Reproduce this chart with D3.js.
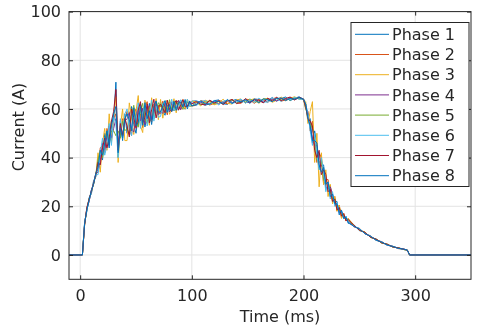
<!DOCTYPE html>
<html>
<head>
<meta charset="utf-8">
<script src="https://cdn.jsdelivr.net/npm/d3@7"></script>
<style>
  body { margin: 0; background: #fff; }
  svg { filter: blur(0.3px); }
  text { font-family: "DejaVu Sans", sans-serif; fill: #262626; }
</style>
</head>
<body>
<svg id="chart" width="480" height="331"></svg>
<script>
// time axis (ms), shared by every phase
const time = [-10, 2, 4, 6, 8, 10, 12, 14, 16, 18, 20, 22, 24, 26, 28, 30, 32, 34, 36, 38, 40,
  42, 44, 46, 48, 50, 52, 54, 56, 58, 60, 62, 64, 66, 68, 70,
  72, 74, 76, 78, 80, 82, 84, 86, 88, 90, 92, 94, 96, 98, 100,
  104, 108, 112, 116, 120, 124, 128, 132, 136, 140, 144, 148, 152, 156, 160, 164, 168, 172, 176, 180, 184, 188, 192, 196, 200,
  202, 204, 206, 208, 210, 212, 214, 216, 218, 220, 222, 224, 226, 228,
  230, 232, 234, 236, 238, 240, 245, 250, 255, 260, 265, 270, 275, 280, 285, 290, 293, 295, 350];

// phase currents (A)
const phase1 = [0, 0, 13.5, 18, 23.5, 25, 30.5, 32, 40, 41, 39, 50, 49, 44, 55, 55, 71, 40, 55, 47, 58,
  50, 57.5, 61, 53.5, 50, 57.5, 62, 59.3, 52.6, 57, 62.3, 55.6, 60, 63.3, 57.6,
  62.9, 59.2, 57.4, 62.6, 61.8, 59, 63.2, 60.4, 62.5, 63.7, 60.8, 59.9, 63, 62.1, 63.2,
  63.3, 62.7, 61.5, 62.2, 63.4, 63.7, 62.1, 61.9, 63.4, 63.9, 62.6, 63.4, 62.3, 64.1, 63.9, 62.7, 63.3, 64.7, 63.2, 64.3, 64.9, 63.4, 64.3, 65, 64,
  62, 55, 56, 46, 51, 45, 35, 37, 37, 27, 28, 28, 22, 22,
  22, 16.5, 18.5, 15, 16, 13, 12.5, 10, 9.4, 7.2, 6.6, 4.9, 4.4, 3.2, 3, 2.2, 2, 0, 0];
const phase2 = [0, 0, 12.5, 19.5, 22, 26.5, 29, 33.5, 35, 44, 45, 42, 52, 48, 47, 56, 58, 44, 49, 56, 55,
  59, 53.5, 49, 57.5, 60, 53.5, 58, 52.3, 60.6, 63, 56.3, 54.6, 62, 59.3, 61.6,
  57.9, 63.2, 61.4, 57.6, 62.8, 62, 59.2, 63.4, 60.5, 59.7, 63.8, 62.9, 61, 63.1, 61.2,
  61.5, 63.4, 63, 61.6, 62.3, 63.5, 63, 62, 64, 62.5, 62.3, 64.1, 63.7, 62.3, 64, 63.6, 62.7, 64.2, 64.6, 63.2, 63.7, 64.7, 63.8, 64.7, 64,
  60, 59, 51, 55, 44, 38, 42, 40, 29, 31, 31, 24, 23, 24,
  18, 20.5, 15.5, 17, 14, 15, 11.6, 11, 8.7, 7.9, 6, 5.5, 4, 3.6, 2.6, 2.4, 2, 0, 0];
const phase3 = [0, 0, 13, 18.5, 23, 25.5, 30, 32.5, 42, 34, 46, 52, 43, 58, 46, 57, 65, 38, 53, 60, 47,
  47, 62.5, 57, 49.5, 59, 65.5, 53, 50.3, 63.6, 59, 53.3, 64.6, 56, 64.3, 55.6,
  63.9, 56.2, 62.4, 63.6, 57.8, 60, 64.2, 58.4, 63.5, 60.7, 63.8, 59.9, 64, 61.1, 63.2,
  62.9, 61.2, 63.6, 62.8, 61.7, 62.3, 64, 62.3, 62, 63.7, 64.1, 62.4, 63.6, 64.2, 62.3, 63.9, 64.4, 62.7, 63.6, 64.9, 63.4, 64.4, 65, 64.1, 64,
  63, 54, 59, 63, 38, 50, 28, 42, 29, 35, 24, 29, 21, 24,
  18, 20.5, 15, 17, 14, 15, 12.4, 10.1, 9.5, 7.2, 6.5, 4.9, 4.5, 3.2, 2.9, 2.2, 2, 0, 0];
const phase4 = [0, 0, 13, 19, 22, 26.5, 29.5, 33.5, 34, 39, 46, 43, 49, 53, 48, 52, 56, 46, 53, 49, 55,
  56, 58.5, 52, 50.5, 57, 60.5, 55, 60.3, 53.6, 60, 61.3, 55.6, 58, 62.3, 57.6,
  58.9, 58.2, 62.4, 61.6, 58.8, 63, 60.2, 62.4, 63.5, 59.7, 61.8, 62.9, 61, 63.1, 62.2,
  62, 62.9, 61.9, 63.3, 62.9, 62, 62.6, 63.5, 62.6, 63.3, 63.7, 62.7, 62.9, 63.8, 63.2, 62.9, 64.1, 63.9, 63.3, 64.3, 63.8, 64.6, 63.9, 64.6, 64,
  61, 58, 52, 48, 45, 45, 36, 37, 35, 28, 27, 28, 25, 21,
  21, 17.5, 18, 15.5, 15.5, 13.5, 11.7, 10.8, 8.7, 7.7, 6.1, 5.4, 4, 3.5, 2.7, 2.4, 2, 0, 0];
const phase5 = [0, 0, 12.5, 19, 23, 26, 29, 33, 39, 43, 40, 46, 51, 46, 51, 51, 49, 51, 48, 55, 51,
  52, 49.5, 58, 61.5, 55, 52.5, 59, 62.3, 55.6, 54, 60.3, 62.6, 56, 58.3, 62.6,
  60.9, 62.2, 58.4, 59.6, 63.8, 60, 59.2, 63.4, 61.5, 62.7, 59.8, 62.9, 63, 61.1, 61.2,
  62.7, 61.7, 62.7, 63.4, 62, 63, 62, 63.4, 63.7, 62.4, 63.3, 62.8, 64.1, 63, 62.8, 64.2, 63.9, 63.1, 64.4, 63.7, 64.5, 63.6, 64.6, 64.2, 64,
  60, 57, 54, 52, 48, 39, 38, 39, 31, 29, 30, 26, 23, 23,
  19, 19.5, 16.5, 16.5, 14.5, 14.5, 12.2, 10.3, 9.2, 7.3, 6.5, 5, 4.3, 3.3, 2.9, 2.2, 2, 0, 0];
const phase6 = [0, 0, 13.5, 18.5, 22.5, 25.5, 30, 33, 33, 42, 48, 41, 45, 54, 45, 57, 54, 40, 56, 48, 58,
  60, 51.5, 49, 59.5, 54, 62.5, 52, 58.3, 61.6, 53, 57.3, 63.6, 55, 61.3, 56.6,
  56.9, 62.2, 63.4, 58.6, 59.8, 64, 59.2, 61.4, 59.5, 63.7, 62.8, 60.9, 64, 61.1, 63.2,
  61.3, 63, 63.5, 61.8, 63.5, 61.6, 63.2, 63.7, 62.3, 62.8, 64.1, 62.3, 63.8, 62.7, 64.4, 63.2, 62.7, 64.4, 64.2, 63.1, 64.6, 63.7, 64.8, 64, 64,
  62, 58, 51, 45, 50, 41, 35, 40, 34, 26, 30, 23, 26, 20,
  21.5, 17.5, 18, 15, 16, 13.5, 11.8, 10.9, 8.8, 7.8, 6, 5.4, 4, 3.6, 2.7, 2.3, 2, 0, 0];
const phase7 = [0, 0, 12.5, 19.5, 23, 26, 29.5, 33, 38, 37, 44, 48, 44, 48, 55, 59, 68, 43, 54, 49, 56,
  53, 48.5, 60, 56.5, 52, 59.5, 63, 54.3, 56.6, 62, 54.3, 59.6, 64, 56.3, 60.6,
  61.9, 60.2, 58.4, 63.6, 59.8, 59, 62.2, 63.4, 59.5, 61.7, 63.8, 60.9, 61, 63.1, 62.2,
  63, 62, 61.6, 63.6, 62.4, 63.3, 61.8, 63.2, 63.9, 62.2, 62.7, 64.2, 62.6, 63.7, 63.6, 62.5, 64.4, 63.3, 64.8, 63.4, 64.3, 64.9, 63.7, 64.8, 64,
  61, 56, 55, 53, 43, 40, 43, 33, 35, 33, 26, 27, 22, 23,
  18.5, 19.5, 16, 17, 14, 14.5, 12.3, 10.2, 9.3, 7.3, 6.5, 5, 4.4, 3.3, 2.9, 2.3, 2, 0, 0];
const phase8 = [0, 0, 13, 18.5, 22.5, 26.5, 29, 33.5, 36, 43, 41, 46, 51, 45, 53, 58, 61, 42, 52, 48, 56,
  58, 55.5, 51, 60.5, 53, 54.5, 61, 53.3, 62.6, 56, 59.3, 53.6, 61, 63.3, 58.6,
  58.9, 61.2, 63.4, 58.6, 61.8, 59, 63.2, 59.4, 62.5, 62.7, 60.8, 63.9, 60, 63.1, 61.2,
  61.8, 63.3, 62.2, 61.9, 63.2, 63.1, 62.2, 63.9, 62.2, 63.5, 62.9, 63.8, 62.8, 64, 62.5, 64.1, 63.8, 63, 64.3, 64.5, 63.4, 64.3, 64, 64.7, 64,
  62, 56, 53, 47, 47, 46, 37, 34, 36, 29, 30, 24, 25, 21,
  21, 17.5, 18, 15, 15.5, 13.5, 11.8, 10.7, 8.8, 7.7, 6.1, 5.3, 4.1, 3.5, 2.7, 2.4, 2, 0, 0];

const phaseNames = ['Phase 1', 'Phase 2', 'Phase 3', 'Phase 4', 'Phase 5', 'Phase 6', 'Phase 7', 'Phase 8'];
const xTicks = [0, 100, 200, 300];
const yTicks = [0, 20, 40, 60, 80, 100];

// matlab default line colours, the 8th wraps round to the first
const colors = ['#0072BD', '#D95319', '#EDB120', '#7E2F8E', '#77AC30', '#4DBEEE', '#A2142F', '#0072BD'];

const phases = [phase1, phase2, phase3, phase4, phase5, phase6, phase7, phase8];
phases.forEach((p, i) => {
  if (p.length !== time.length) console.warn(phaseNames[i] + ' has ' + p.length + ' values, time has ' + time.length);
});

const box = { left: 69, top: 11.6, right: 471, bottom: 279.3 };

const svg = d3.select('#chart');

const x = d3.scaleLinear().domain([-10, 350]).range([box.left, box.right]);
const y = d3.scaleLinear().domain([-10, 100]).range([box.bottom, box.top]);

// grid
const grid = svg.append('g').attr('stroke', '#e3e3e3').attr('stroke-width', 1);
xTicks.forEach(t => {
  grid.append('line')
    .attr('x1', x(t)).attr('x2', x(t))
    .attr('y1', box.top).attr('y2', box.bottom);
});
yTicks.forEach(t => {
  grid.append('line')
    .attr('x1', box.left).attr('x2', box.right)
    .attr('y1', y(t)).attr('y2', y(t));
});

svg.append('clipPath').attr('id', 'plot-clip')
  .append('rect')
  .attr('x', box.left).attr('y', box.top)
  .attr('width', box.right - box.left).attr('height', box.bottom - box.top);

const line = d3.line()
  .x((d, i) => x(time[i]))
  .y(d => y(d));

svg.append('g').attr('clip-path', 'url(#plot-clip)')
  .selectAll('path')
  .data(phases)
  .join('path')
  .attr('d', line)
  .attr('fill', 'none')
  .attr('stroke', (d, i) => colors[i])
  .attr('stroke-width', 1)
  .attr('stroke-linejoin', 'round');

// axes, matlab style: ticks pointing in, box round the plot
const xAxis = d3.axisBottom(x).tickValues(xTicks).tickSize(-4).tickPadding(10).tickSizeOuter(0);
const yAxis = d3.axisLeft(y).tickValues(yTicks).tickSize(-4).tickPadding(8).tickSizeOuter(0);

const gx = svg.append('g').attr('transform', 'translate(0,' + box.bottom + ')').call(xAxis);
const gy = svg.append('g').attr('transform', 'translate(' + box.left + ',0)').call(yAxis);

[gx, gy].forEach(g => {
  g.select('.domain').remove();
  g.selectAll('.tick line').attr('stroke', '#262626');
  g.selectAll('.tick text').attr('font-size', 16).attr('fill', '#262626')
    .style('font-family', '"DejaVu Sans", sans-serif');
});

// ticks on top and right side too
svg.append('g').attr('transform', 'translate(0,' + box.top + ')')
  .call(d3.axisTop(x).tickValues(xTicks).tickSize(-4).tickFormat('').tickSizeOuter(0))
  .call(g => g.select('.domain').remove())
  .selectAll('line').attr('stroke', '#262626');
svg.append('g').attr('transform', 'translate(' + box.right + ',0)')
  .call(d3.axisRight(y).tickValues(yTicks).tickSize(-4).tickFormat('').tickSizeOuter(0))
  .call(g => g.select('.domain').remove())
  .selectAll('line').attr('stroke', '#262626');

svg.append('rect')
  .attr('x', box.left).attr('y', box.top)
  .attr('width', box.right - box.left).attr('height', box.bottom - box.top)
  .attr('fill', 'none').attr('stroke', '#262626').attr('stroke-width', 1);

svg.append('text')
  .attr('x', 280).attr('y', 322)
  .attr('text-anchor', 'middle').attr('font-size', 16)
  .text('Time (ms)');

svg.append('text')
  .attr('transform', 'translate(24,127) rotate(-90)')
  .attr('text-anchor', 'middle').attr('font-size', 16)
  .text('Current (A)');

// legend
const legend = svg.append('g');
legend.append('rect')
  .attr('x', 351).attr('y', 22.5)
  .attr('width', 118).attr('height', 164)
  .attr('fill', '#fff').attr('stroke', '#262626').attr('stroke-width', 1);

const rows = legend.selectAll('g.row')
  .data(phaseNames)
  .join('g')
  .attr('class', 'row')
  .attr('transform', (d, i) => 'translate(0,' + (34.3 + i * 20.2) + ')');

rows.append('line')
  .attr('x1', 355).attr('x2', 389)
  .attr('stroke', (d, i) => colors[i]).attr('stroke-width', 1);

rows.append('text')
  .attr('x', 392).attr('dy', '0.36em')
  .attr('font-size', 16)
  .text(d => d);
</script>
</body>
</html>
